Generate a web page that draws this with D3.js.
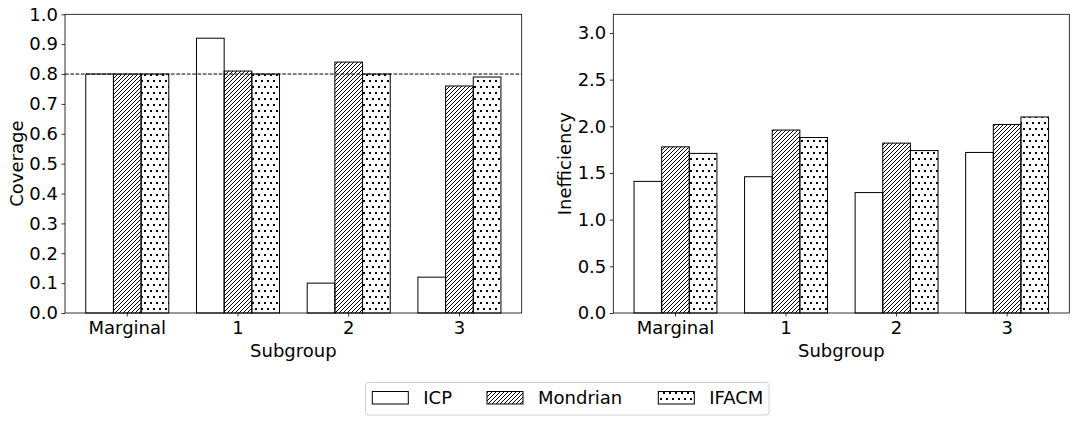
<!DOCTYPE html>
<html>
<head>
<meta charset="utf-8">
<script src="https://cdn.jsdelivr.net/npm/d3@7"></script>
<style>
  body { margin: 0; background: #fff; }
  text { font-family: "DejaVu Sans", sans-serif; fill: #000; }
  .tick text { font-size: 18px; }
  .tick line { stroke: #000; stroke-width: 0.8; }
</style>
</head>
<body>
<div class="chart-container"></div>
<script>
// data
var groups = ["Marginal", "1", "2", "3"];
var methods = ["ICP", "Mondrian", "IFACM"];
var coverageICP = [0.80, 0.92, 0.10, 0.12];
var coverageMondrian = [0.80, 0.81, 0.84, 0.76];
var coverageIFACM = [0.80, 0.80, 0.80, 0.79];
var inefficiencyICP = [1.41, 1.46, 1.29, 1.72];
var inefficiencyMondrian = [1.78, 1.96, 1.82, 2.02];
var inefficiencyIFACM = [1.71, 1.88, 1.74, 2.10];
var coverageTicks = [0, 0.1, 0.2, 0.3, 0.4, 0.5, 0.6, 0.7, 0.8, 0.9, 1.0];
var inefficiencyTicks = [0, 0.5, 1.0, 1.5, 2.0, 2.5, 3.0];
var target = 0.8;

var width = 1076, height = 422;

var svg = d3.select(".chart-container").append("svg")
    .attr("width", width)
    .attr("height", height);

svg.append("rect").attr("width", width).attr("height", height).attr("fill", "#fff");

// hatch patterns
var defs = svg.append("defs");
var hatch = defs.append("pattern")
    .attr("id", "hatch")
    .attr("patternUnits", "userSpaceOnUse")
    .attr("width", 4).attr("height", 4);
hatch.append("path")
    .attr("d", "M-1,1 L1,-1 M0,4 L4,0 M3,5 L5,3")
    .attr("stroke", "#000").attr("stroke-width", 1);

var dots = defs.append("pattern")
    .attr("id", "dots")
    .attr("patternUnits", "userSpaceOnUse")
    .attr("width", 6).attr("height", 12);
dots.append("rect").attr("x", 0).attr("y", 2).attr("width", 2).attr("height", 2).attr("fill", "#000");
dots.append("rect").attr("x", 3).attr("y", 8).attr("width", 2).attr("height", 2).attr("fill", "#000");

var fills = { ICP: "#fff", Mondrian: "url(#hatch)", IFACM: "url(#dots)" };

function drawPanel(left, right, top, bottom, domainMax, ticks, series, ylabel, ylabelX, hline) {
  var x = d3.scaleBand()
      .domain(groups)
      .range([left, right])
      .paddingInner(0.25)
      .paddingOuter(0.1875);

  var xInner = d3.scaleBand()
      .domain(methods)
      .range([0, x.bandwidth()]);

  var y = d3.scaleLinear()
      .domain([0, domainMax])
      .range([bottom, top]);

  var g = svg.append("g");

  // bars
  methods.forEach(function(m, mi) {
    g.selectAll(".bar-" + m)
        .data(series[mi])
      .enter().append("rect")
        .attr("x", function(d, i) { return x(groups[i]) + xInner(m); })
        .attr("y", function(d) { return y(d); })
        .attr("width", xInner.bandwidth())
        .attr("height", function(d) { return y(0) - y(d); })
        .attr("fill", fills[m])
        .attr("stroke", "#000")
        .attr("stroke-width", 1);
  });

  if (hline != null) {
    g.append("line")
        .attr("x1", left).attr("x2", right)
        .attr("y1", y(hline)).attr("y2", y(hline))
        .attr("stroke", "#000")
        .attr("stroke-width", 1)
        .attr("stroke-dasharray", "3.7,1.6");
  }

  // frame
  g.append("rect")
      .attr("x", left).attr("y", top)
      .attr("width", right - left).attr("height", bottom - top)
      .attr("fill", "none")
      .attr("stroke", "#000")
      .attr("stroke-width", 0.8);

  var yAxis = g.append("g")
      .attr("transform", "translate(" + left + ",0)")
      .call(d3.axisLeft(y).tickValues(ticks).tickFormat(d3.format(".1f")).tickSize(3.5).tickPadding(3.5));
  yAxis.select(".domain").remove();

  var xAxis = g.append("g")
      .attr("transform", "translate(0," + bottom + ")")
      .call(d3.axisBottom(x).tickSize(3.5).tickPadding(3.5));
  xAxis.select(".domain").remove();
  xAxis.selectAll(".tick text").attr("dy", "0.8em");

  g.append("text")
      .attr("x", (left + right) / 2)
      .attr("y", 357)
      .attr("text-anchor", "middle")
      .style("font-size", "18px")
      .text("Subgroup");

  g.append("text")
      .attr("transform", "translate(" + ylabelX + "," + ((top + bottom) / 2) + ") rotate(-90)")
      .attr("text-anchor", "middle")
      .style("font-size", "18px")
      .text(ylabel);
}

drawPanel(65, 521.7, 14.3, 313, 1.0, coverageTicks,
    [coverageICP, coverageMondrian, coverageIFACM], "Coverage", 23, target);
drawPanel(613.3, 1069.3, 14.3, 313, 3.2, inefficiencyTicks,
    [inefficiencyICP, inefficiencyMondrian, inefficiencyIFACM], "Inefficiency", 571, null);

// legend
var legend = svg.append("g");
legend.append("rect")
    .attr("x", 365.5).attr("y", 382.5)
    .attr("width", 403.5).attr("height", 32.5)
    .attr("rx", 3)
    .attr("fill", "#fff")
    .attr("stroke", "#d0d0d0")
    .attr("stroke-width", 1);

var legendX = [372.3, 487, 658.3];
methods.forEach(function(m, i) {
  legend.append("rect")
      .attr("x", legendX[i]).attr("y", 391.5)
      .attr("width", 36).attr("height", 12.5)
      .attr("fill", fills[m])
      .attr("stroke", "#000")
      .attr("stroke-width", 1);
  legend.append("text")
      .attr("x", legendX[i] + 51)
      .attr("y", 404)
      .style("font-size", "18px")
      .text(m);
});
</script>
</body>
</html>
